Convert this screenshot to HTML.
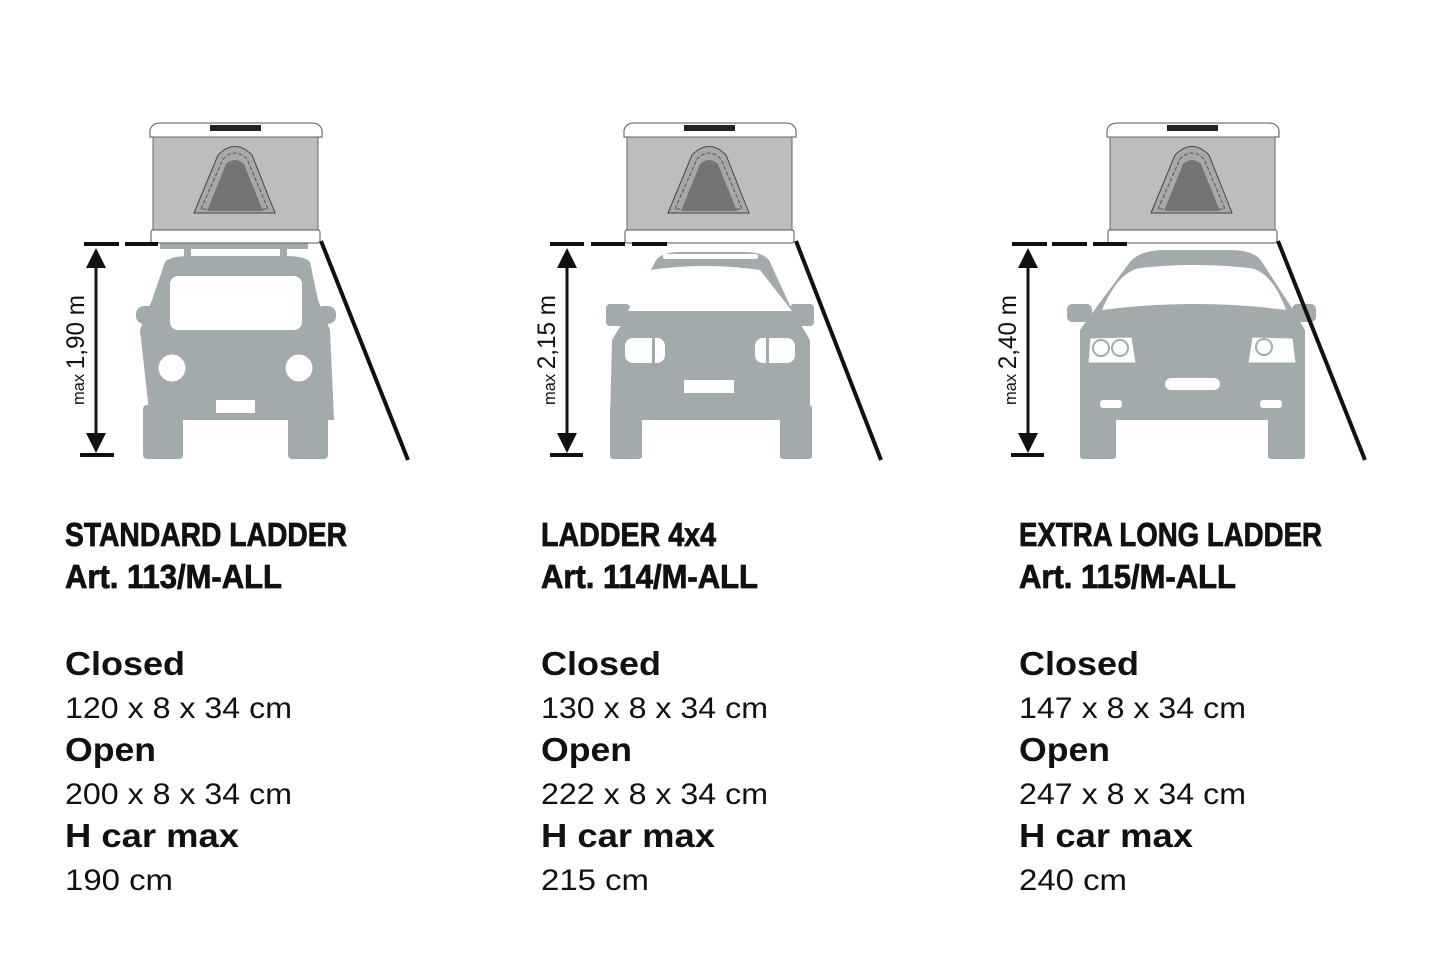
<!DOCTYPE html>
<html><head><meta charset="utf-8"><style>
html,body{margin:0;padding:0;background:#fff}
svg{display:block}
text{font-family:"Liberation Sans",sans-serif;fill:#111}
.h{font-weight:bold;font-size:33px;stroke:#111;stroke-width:0.8}
.b{font-weight:bold;font-size:33px}
.r{font-size:30px}
</style></head><body>
<svg width="1445" height="963" viewBox="0 0 1445 963" xmlns="http://www.w3.org/2000/svg">
<defs>
<g id="tent">
  <path d="M150,137 L150,130 Q152,123 160,123 L312,123 Q320,123 322,130 L322,137 Z" fill="#fff" stroke="#555" stroke-width="1"/>
  <rect x="210" y="125" width="51" height="6" fill="#222"/>
  <rect x="153" y="137" width="165" height="93" fill="#bdbdbd" stroke="#666" stroke-width="1"/>
  <path d="M194,213 L218,155 Q235,138 252,155 L275,213 Z" fill="#a8a8a8" stroke="#444" stroke-width="1"/>
  <path d="M201,209 L223,159 Q235,147 247,159 L268,209 Z" fill="none" stroke="#555" stroke-width="1" stroke-dasharray="4,2"/>
  <path d="M207,211 L226,164 Q235,156 244,164 L263,211 Z" fill="#747474"/>
  <rect x="151" y="230" width="169" height="13" rx="2" fill="#fff" stroke="#555" stroke-width="1"/>
</g>
</defs>

<!-- Panel 1 -->
<g fill="#a2aaac">
  <rect x="160" y="243" width="148" height="6"/>
  <rect x="184" y="248" width="7" height="12"/>
  <rect x="280" y="248" width="7" height="12"/>
  <path d="M165,262 Q170,256 190,256 L285,256 Q305,256 310,262 L318,300 L330,330 L334,420 L150,420 L140,330 L152,300 Z"/>
  <rect x="136" y="306" width="20" height="18" rx="8"/>
  <rect x="316" y="306" width="20" height="18" rx="8"/>
  <rect x="143" y="405" width="40" height="54" rx="4"/>
  <rect x="288" y="405" width="40" height="54" rx="4"/>
</g>
<rect x="170" y="276" width="132" height="54" rx="8" fill="#fff"/>
<circle cx="172" cy="368" r="13.5" fill="#fff"/>
<circle cx="299" cy="368" r="13.5" fill="#fff"/>
<rect x="216" y="400" width="39" height="13" fill="#fff"/>
<use href="#tent"/>
<g fill="#111">
  <rect x="84" y="242" width="35" height="4"/>
  <rect x="125" y="242" width="33" height="4"/>
  <rect x="80" y="453" width="34" height="4"/>
  <rect x="94.5" y="262" width="3" height="182"/>
  <path d="M96,248 L86,268 L106,268 Z"/>
  <path d="M96,453 L86,433 L106,433 Z"/>
</g>
<line x1="321" y1="241" x2="408" y2="460" stroke="#111" stroke-width="4"/>
<text transform="translate(84,405) rotate(-90)" style="font-size:25px" textLength="110" lengthAdjust="spacingAndGlyphs"><tspan style="font-size:17px">max </tspan>1,90 m</text>

<!-- Panel 2 -->
<g fill="#a2aaac">
  <path d="M655,262 Q660,252 680,252 L745,252 Q765,252 770,262 L792,310 L810,340 L810,420 L610,420 L612,340 L630,310 Z"/>
  <rect x="606" y="304" width="24" height="22" rx="4"/>
  <rect x="790" y="304" width="24" height="22" rx="4"/>
  <rect x="610" y="405" width="32" height="54" rx="3"/>
  <rect x="780" y="405" width="32" height="54" rx="3"/>
</g>
<rect x="663" y="254" width="95" height="5" rx="2" fill="#fff"/>
<path d="M650,270 Q705,262 760,270 L792,311 L628,311 Z" fill="#fff"/>
<rect x="625" y="338" width="40" height="25" rx="8" fill="#fff"/>
<rect x="755" y="338" width="40" height="25" rx="8" fill="#fff"/>
<rect x="652" y="338" width="3" height="25" fill="#a2aaac"/>
<rect x="766" y="338" width="3" height="25" fill="#a2aaac"/>
<rect x="684" y="380" width="50" height="13" fill="#fff"/>
<use href="#tent" x="474"/>
<g fill="#111">
  <rect x="550" y="242" width="34" height="4"/>
  <rect x="591" y="242" width="34" height="4"/>
  <rect x="632" y="242" width="35" height="4"/>
  <rect x="550" y="453" width="33" height="4"/>
  <rect x="565.5" y="262" width="3" height="182"/>
  <path d="M567,248 L557,268 L577,268 Z"/>
  <path d="M567,453 L557,433 L577,433 Z"/>
</g>
<line x1="796" y1="241" x2="881" y2="460" stroke="#111" stroke-width="4"/>
<text transform="translate(555,405) rotate(-90)" style="font-size:25px" textLength="110" lengthAdjust="spacingAndGlyphs"><tspan style="font-size:17px">max </tspan>2,15 m</text>

<!-- Panel 3 -->
<g fill="#a2aaac">
  <path d="M1130,262 Q1140,250 1165,250 L1230,250 Q1255,250 1262,262 L1290,305 L1305,330 L1305,420 L1080,420 L1080,330 L1098,305 Z"/>
  <rect x="1067" y="304" width="25" height="18" rx="5"/>
  <rect x="1292" y="304" width="24" height="18" rx="5"/>
  <rect x="1080" y="405" width="36" height="54" rx="3"/>
  <rect x="1268" y="405" width="37" height="54" rx="3"/>
</g>
<path d="M1102,310 Q1118,272 1140,268 Q1195,262 1250,268 Q1272,272 1286,310 Q1195,298 1102,310 Z" fill="#fff"/>
<path d="M1088,363 L1090,338 L1132,337 L1136,363 Z" fill="#fff" stroke="#a2aaac" stroke-width="1"/>
<circle cx="1101" cy="348" r="8" fill="none" stroke="#a2aaac" stroke-width="2"/>
<circle cx="1120" cy="348" r="8" fill="none" stroke="#a2aaac" stroke-width="2"/>
<path d="M1248,363 L1252,337 L1293,338 L1296,363 Z" fill="#fff" stroke="#a2aaac" stroke-width="1"/>
<circle cx="1264" cy="347" r="8" fill="none" stroke="#a2aaac" stroke-width="2"/>
<rect x="1165" y="378" width="55" height="12" rx="6" fill="#fff"/>
<rect x="1100" y="400" width="22" height="8" rx="3" fill="#fff"/>
<rect x="1260" y="400" width="22" height="8" rx="3" fill="#fff"/>
<use href="#tent" x="957"/>
<g fill="#111">
  <rect x="1012" y="242" width="35" height="4"/>
  <rect x="1052" y="242" width="35" height="4"/>
  <rect x="1093" y="242" width="34" height="4"/>
  <rect x="1011" y="453" width="33" height="4"/>
  <rect x="1026.5" y="262" width="3" height="182"/>
  <path d="M1028,248 L1018,268 L1038,268 Z"/>
  <path d="M1028,453 L1018,433 L1038,433 Z"/>
</g>
<line x1="1278" y1="241" x2="1365" y2="460" stroke="#111" stroke-width="4"/>
<text transform="translate(1016,405) rotate(-90)" style="font-size:25px" textLength="110" lengthAdjust="spacingAndGlyphs"><tspan style="font-size:17px">max </tspan>2,40 m</text>

<!-- Text col 1 -->
<text class="h" x="65" y="546" textLength="282" lengthAdjust="spacingAndGlyphs">STANDARD LADDER</text>
<text class="h" x="65" y="588" textLength="217" lengthAdjust="spacingAndGlyphs">Art. 113/M-ALL</text>
<text class="b" x="65" y="675" textLength="120" lengthAdjust="spacingAndGlyphs">Closed</text>
<text class="r" x="65" y="718" textLength="227" lengthAdjust="spacingAndGlyphs">120 x 8 x 34 cm</text>
<text class="b" x="65" y="761" textLength="91" lengthAdjust="spacingAndGlyphs">Open</text>
<text class="r" x="65" y="804" textLength="227" lengthAdjust="spacingAndGlyphs">200 x 8 x 34 cm</text>
<text class="b" x="65" y="847" textLength="174" lengthAdjust="spacingAndGlyphs">H car max</text>
<text class="r" x="65" y="890" textLength="108" lengthAdjust="spacingAndGlyphs">190 cm</text>

<!-- Text col 2 -->
<text class="h" x="541" y="546" textLength="175" lengthAdjust="spacingAndGlyphs">LADDER 4x4</text>
<text class="h" x="541" y="588" textLength="217" lengthAdjust="spacingAndGlyphs">Art. 114/M-ALL</text>
<text class="b" x="541" y="675" textLength="120" lengthAdjust="spacingAndGlyphs">Closed</text>
<text class="r" x="541" y="718" textLength="227" lengthAdjust="spacingAndGlyphs">130 x 8 x 34 cm</text>
<text class="b" x="541" y="761" textLength="91" lengthAdjust="spacingAndGlyphs">Open</text>
<text class="r" x="541" y="804" textLength="227" lengthAdjust="spacingAndGlyphs">222 x 8 x 34 cm</text>
<text class="b" x="541" y="847" textLength="174" lengthAdjust="spacingAndGlyphs">H car max</text>
<text class="r" x="541" y="890" textLength="108" lengthAdjust="spacingAndGlyphs">215 cm</text>

<!-- Text col 3 -->
<text class="h" x="1019" y="546" textLength="303" lengthAdjust="spacingAndGlyphs">EXTRA LONG LADDER</text>
<text class="h" x="1019" y="588" textLength="217" lengthAdjust="spacingAndGlyphs">Art. 115/M-ALL</text>
<text class="b" x="1019" y="675" textLength="120" lengthAdjust="spacingAndGlyphs">Closed</text>
<text class="r" x="1019" y="718" textLength="227" lengthAdjust="spacingAndGlyphs">147 x 8 x 34 cm</text>
<text class="b" x="1019" y="761" textLength="91" lengthAdjust="spacingAndGlyphs">Open</text>
<text class="r" x="1019" y="804" textLength="227" lengthAdjust="spacingAndGlyphs">247 x 8 x 34 cm</text>
<text class="b" x="1019" y="847" textLength="174" lengthAdjust="spacingAndGlyphs">H car max</text>
<text class="r" x="1019" y="890" textLength="108" lengthAdjust="spacingAndGlyphs">240 cm</text>
</svg>
</body></html>
